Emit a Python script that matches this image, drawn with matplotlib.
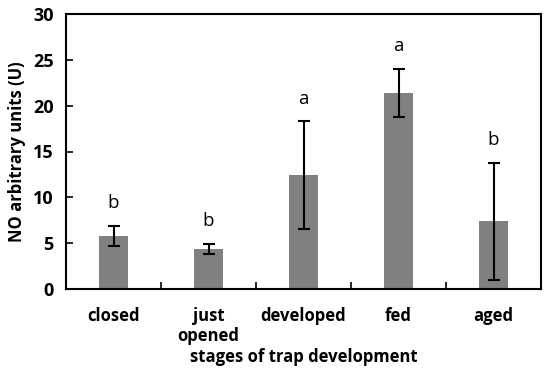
import matplotlib
matplotlib.use("Agg")
import matplotlib.pyplot as plt
import numpy as np

categories = ["closed", "just\nopened", "developed", "fed", "aged"]
values = [5.8, 4.4, 12.4, 21.4, 7.4]
errors = [1.1, 0.55, 5.9, 2.65, 6.4]
letters = ["b", "b", "a", "a", "b"]

plt.rcParams['font.family'] = ['Open Sans', 'DejaVu Sans']

fig = plt.figure(figsize=(5.5, 3.77), dpi=100)
ax = fig.add_axes([66/550, 1-289/377, (541-66)/550, (289-14)/377])

x = np.arange(len(categories))
ax.bar(x, values, width=0.31, color='#808080', zorder=2)
ax.errorbar(x, values, yerr=errors, fmt='none', ecolor='black', elinewidth=1.5,
            capsize=4, capthick=1.5, zorder=3)
for xi, v, e, l in zip(x, values, errors, letters):
    ax.text(xi, v + e + 1.5, l, ha='center', va='bottom', fontsize=13.5)

ax.set_xlim(-0.5, len(categories) - 0.5)
ax.set_ylim(0, 30)
ax.set_yticks(range(0, 31, 5))
ax.tick_params(axis='y', direction='in', length=5, width=1.2, labelsize=13, pad=9)
for lab in ax.get_yticklabels():
    lab.set_fontweight('bold')

ax.set_xticks(x)
ax.set_xticklabels(categories, fontweight='bold', fontsize=12, linespacing=1.15)
ax.tick_params(axis='x', length=0, pad=13)
ax.set_xticks(np.arange(0.5, len(categories) - 0.5, 1), minor=True)
ax.tick_params(axis='x', which='minor', direction='in', length=5, width=1.2)

for s in ax.spines.values():
    s.set_linewidth(1.5)

ax.set_ylabel("NO arbitrary units (U)", fontweight='bold', fontsize=12, labelpad=5)
ax.set_xlabel("stages of trap development", fontweight='bold', fontsize=12, labelpad=2)

fig.savefig("out.png", dpi=100)
